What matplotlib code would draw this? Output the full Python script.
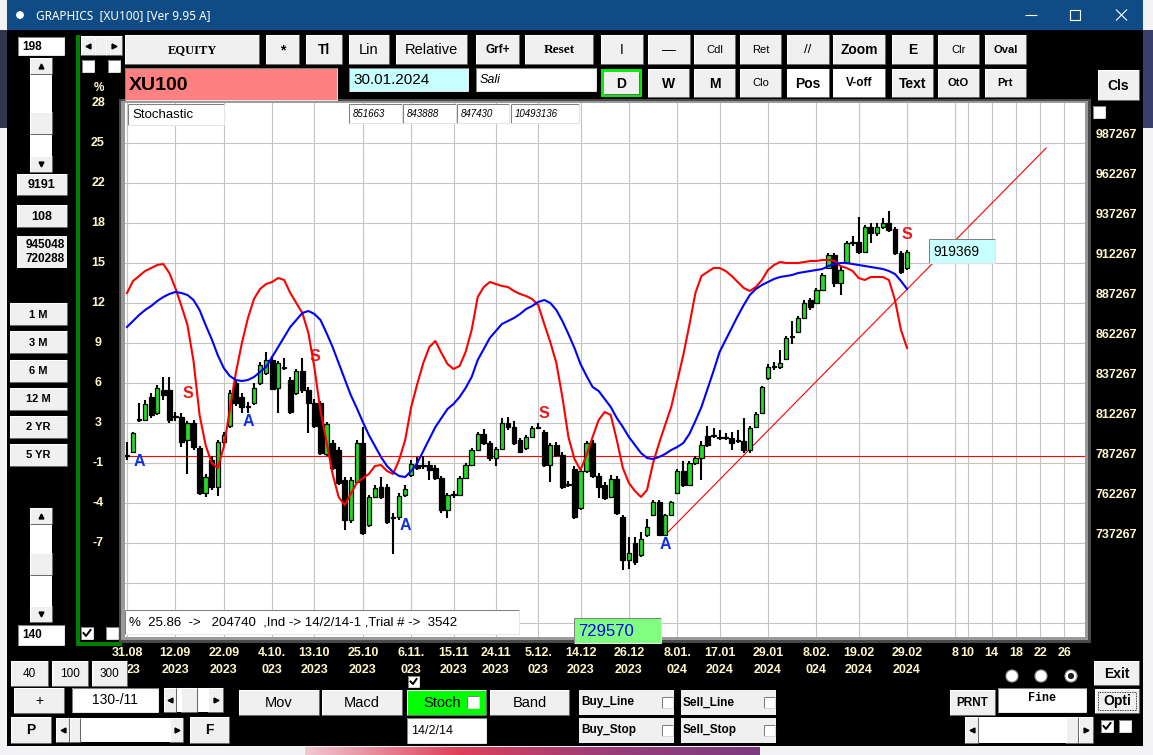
import matplotlib
matplotlib.use("Agg")
import matplotlib.pyplot as plt
import matplotlib.transforms as mtransforms
from matplotlib.colors import LinearSegmentedColormap
from matplotlib.patches import Circle, Rectangle
from matplotlib import font_manager
import numpy as np

# daily XU100 candles, prices in thousands
opens = [792.3, 794.1, 814.1, 814.1, 828.5, 818.5, 832.9, 832.9, 816.0, 816.0,
         801.6, 812.3, 796.6, 768.5, 789.1, 772.2, 800.4, 810.4, 837.3, 828.5,
         822.2, 824.7, 837.3, 843.5, 851.6, 834.1, 846.6, 839.1, 831.0, 844.7,
         832.9, 824.7, 824.7, 792.9, 799.8, 795.4, 776.6, 751.6, 775.4, 799.8,
         748.5, 766.0, 772.2, 772.2, 752.9, 753.5, 767.3, 779.8, 786.0, 786.0,
         786.0, 784.1, 777.9, 757.9, 767.3, 767.3, 777.9, 786.0, 795.4, 805.4,
         799.8, 790.4, 796.0, 812.3, 809.8, 801.6, 796.6, 803.5, 809.1, 806.6,
         786.0, 798.5, 792.3, 774.1, 783.5, 759.1, 782.2, 799.8, 779.1, 773.5,
         766.0, 777.3, 753.5, 726.6, 737.3, 729.7, 742.3, 754.7, 762.9, 742.3,
         754.7, 768.5, 782.2, 773.5, 787.3, 790.4, 804.1, 804.1, 802.9, 803.5,
         802.9, 801.0, 801.0, 795.4, 809.8, 818.5, 840.4, 847.3, 847.3, 852.3,
         866.0, 869.1, 877.9, 889.1, 887.3, 895.4, 909.1, 917.3, 899.8, 912.3,
         924.8, 925.4, 919.1, 934.8, 931.0, 934.8, 937.3, 933.5, 918.5, 909.1]
highs = [800.4, 806.6, 824.7, 826.6, 831.0, 836.0, 841.0, 841.0, 819.1, 818.5,
         813.5, 814.1, 797.9, 780.4, 791.6, 801.6, 806.6, 832.9, 839.1, 831.0,
         825.4, 837.3, 850.4, 856.6, 854.1, 851.0, 852.9, 841.0, 846.0, 852.9,
         834.7, 827.3, 826.0, 812.9, 801.6, 797.3, 778.5, 778.5, 801.6, 809.8,
         767.3, 773.5, 778.5, 774.1, 756.0, 768.5, 773.5, 789.1, 791.0, 791.6,
         788.5, 786.0, 779.1, 768.5, 769.8, 779.1, 787.3, 796.6, 806.6, 808.5,
         801.0, 797.3, 815.4, 816.0, 813.5, 802.9, 804.7, 810.4, 812.3, 807.9,
         799.8, 800.4, 794.1, 776.0, 785.4, 783.5, 801.0, 801.6, 781.0, 775.4,
         779.8, 779.1, 754.7, 741.0, 741.0, 744.1, 752.2, 764.1, 764.1, 755.4,
         763.5, 783.5, 788.5, 788.5, 791.6, 801.0, 810.4, 809.1, 807.9, 806.0,
         806.6, 807.9, 815.4, 810.4, 819.1, 835.4, 849.1, 850.4, 857.9, 866.6,
         876.0, 879.1, 889.1, 890.4, 896.6, 906.0, 918.5, 918.5, 910.4, 926.0,
         929.1, 941.0, 936.0, 937.3, 937.3, 940.4, 945.0, 934.8, 919.8, 920.4]
lows = [789.1, 793.5, 812.9, 813.5, 815.4, 817.3, 826.6, 812.3, 813.5, 797.3,
        780.4, 795.4, 767.3, 766.0, 770.4, 766.6, 798.5, 809.1, 822.9, 818.5,
        818.5, 823.5, 836.0, 842.3, 832.9, 818.5, 845.4, 817.9, 829.8, 831.0,
        806.0, 809.1, 792.3, 791.6, 782.9, 773.5, 745.4, 749.8, 774.7, 742.3,
        747.3, 765.4, 764.7, 749.1, 730.4, 751.6, 766.0, 778.5, 782.9, 783.5,
        776.6, 776.6, 755.8, 752.9, 765.4, 766.6, 777.3, 785.4, 794.7, 798.5,
        788.5, 785.4, 795.4, 807.9, 798.5, 793.5, 795.4, 802.9, 808.5, 784.7,
        775.4, 791.0, 771.0, 772.2, 752.2, 757.9, 781.0, 777.9, 765.4, 764.1,
        765.4, 754.7, 720.3, 721.0, 723.5, 728.5, 741.0, 754.1, 741.6, 741.6,
        754.1, 767.9, 772.2, 772.9, 786.0, 776.6, 797.3, 802.9, 801.6, 801.6,
        795.4, 799.8, 793.5, 793.5, 809.1, 817.9, 839.1, 845.4, 846.0, 851.6,
        861.6, 868.5, 877.3, 882.9, 886.6, 894.7, 908.5, 897.3, 892.3, 911.6,
        922.9, 917.9, 918.5, 924.8, 929.1, 933.5, 931.6, 917.3, 905.4, 907.9]
closes = [791.8, 806.0, 814.7, 824.1, 817.3, 834.1, 829.8, 814.1, 816.6, 800.4,
          812.3, 797.3, 768.5, 778.5, 772.2, 800.4, 804.7, 831.0, 824.7, 822.2,
          822.9, 834.1, 848.5, 851.6, 833.5, 849.8, 847.3, 819.1, 844.7, 832.9,
          824.7, 810.4, 793.5, 811.6, 784.1, 774.7, 751.6, 776.6, 799.8, 743.5,
          766.0, 771.6, 766.0, 750.4, 753.5, 766.6, 771.0, 786.6, 784.1, 785.4,
          782.9, 777.9, 757.9, 767.3, 767.9, 777.9, 786.0, 795.4, 805.4, 799.8,
          790.4, 796.0, 812.3, 809.8, 799.8, 794.1, 803.5, 809.1, 809.8, 786.0,
          798.5, 792.3, 772.2, 773.5, 753.5, 782.2, 799.8, 779.1, 772.2, 765.4,
          777.3, 755.8, 726.6, 731.0, 725.4, 739.7, 747.3, 762.9, 742.3, 754.7,
          762.9, 782.2, 773.5, 787.3, 790.4, 798.5, 798.5, 804.7, 803.5, 802.9,
          799.8, 801.6, 795.4, 809.1, 817.9, 834.7, 847.3, 847.9, 849.8, 865.4,
          866.6, 877.9, 887.3, 884.8, 895.4, 904.8, 917.3, 899.8, 907.9, 924.8,
          925.4, 919.1, 934.8, 931.0, 934.8, 937.3, 932.9, 918.5, 906.6, 919.4]

# stochastic %K (red) and %D (blue)
stoch_k = [86.8, 91.6, 93.6, 95.6, 96.8, 98.0, 98.4, 94.8, 88.8, 81.6,
           74.0, 59.6, 38.0, 26.0, 18.8, 16.8, 25.2, 40.0, 54.8, 66.8,
           76.8, 84.4, 88.4, 90.4, 91.2, 92.8, 92.0, 86.8, 82.8, 78.8,
           70.8, 56.8, 39.6, 27.2, 14.4, 5.2, 2.0, 6.4, 10.8, 12.8,
           14.4, 17.6, 18.0, 15.6, 14.4, 20.0, 28.0, 41.2, 50.4, 58.8,
           65.2, 67.6, 62.8, 58.4, 56.4, 57.6, 63.2, 72.0, 85.2, 89.2,
           91.2, 90.4, 89.6, 89.2, 87.6, 86.4, 85.6, 84.4, 82.0, 74.4,
           67.2, 58.8, 45.2, 29.2, 20.4, 16.0, 22.0, 29.2, 36.0, 39.2,
           38.0, 28.0, 16.8, 10.8, 7.6, 5.2, 8.0, 18.8, 26.8, 34.0,
           41.2, 51.6, 62.0, 74.0, 86.8, 93.6, 95.2, 96.8, 96.8, 95.6,
           93.6, 91.2, 88.8, 87.6, 89.2, 92.0, 96.0, 98.0, 99.2, 98.8,
           98.8, 98.8, 99.2, 99.6, 99.6, 100.0, 100.0, 99.6, 97.6, 96.8,
           95.6, 92.8, 92.0, 93.2, 93.2, 93.2, 92.0, 84.0, 72.0, 64.8]
stoch_d = [73.2, 75.6, 78.0, 80.0, 81.6, 83.6, 85.2, 86.4, 87.2, 86.8,
           86.0, 84.0, 80.0, 74.0, 68.4, 62.0, 56.8, 53.6, 52.0, 51.6,
           52.0, 53.2, 55.2, 57.2, 61.2, 65.2, 69.2, 73.2, 76.0, 78.8,
           79.6, 78.4, 76.0, 70.8, 65.2, 58.8, 52.4, 46.0, 40.8, 35.2,
           30.0, 25.6, 21.2, 17.6, 15.2, 13.6, 13.2, 15.6, 18.8, 23.6,
           28.4, 33.2, 36.8, 40.4, 42.4, 45.2, 48.8, 53.2, 60.0, 64.4,
           68.8, 71.6, 74.4, 75.6, 76.8, 78.4, 80.4, 81.6, 83.2, 84.0,
           82.8, 80.0, 75.6, 70.4, 64.8, 58.4, 53.6, 49.2, 47.6, 44.4,
           41.2, 36.8, 33.2, 29.2, 26.0, 22.8, 20.8, 20.4, 21.2, 22.4,
           24.0, 25.2, 26.8, 30.4, 35.6, 41.2, 48.4, 55.6, 63.2, 68.0,
           72.8, 77.6, 82.0, 86.0, 88.4, 90.0, 91.2, 92.4, 93.2, 93.6,
           94.0, 94.8, 95.2, 95.6, 96.0, 96.4, 97.6, 98.4, 98.8, 98.8,
           98.4, 98.0, 97.6, 97.2, 96.8, 96.4, 95.6, 94.4, 91.6, 88.4]

date_bars = [0, 8, 16, 24, 31, 39, 47, 54, 61, 68, 75, 83, 91, 98, 106, 114, 121, 129]
date_top = ["31.08", "12.09", "22.09", "4.10.", "13.10", "25.10", "6.11.", "15.11", "24.11",
            "5.12.", "14.12", "26.12", "8.01.", "17.01", "29.01", "8.02.", "19.02", "29.02"]
# first one is half hidden under the "300" button in the app
date_bottom = ["23", "2023", "2023", "023", "2023", "2023", "023", "2023", "2023",
               "023", "2023", "2023", "024", "2024", "2024", "024", "2024", "2024"]
future_days = [8, 10, 14, 18, 22, 26]

price_ticks = [987.267, 962.267, 937.267, 912.267, 887.267, 862.267,
               837.267, 812.267, 787.267, 762.267, 737.267]
extra_grid = [712.267, 687.267]
top_price = 1012.267

signal_bars = [2, 10, 20, 31, 46, 69, 89, 129]
signal_prices = [788.5, 830.4, 812.9, 854.1, 747.9, 817.9, 736.6, 929.8]
signal_kinds = ["A", "S", "A", "S", "A", "S", "A", "S"]

trend_bars = [89, 152]
trend_prices = [742.3, 984.1]

W, H = 1153, 755
names = {f.name for f in font_manager.fontManager.ttflist}
SANS = "Liberation Sans" if "Liberation Sans" in names else "DejaVu Sans"
SERIF = "Liberation Serif" if "Liberation Serif" in names else "DejaVu Serif"
MONO = "Liberation Mono" if "Liberation Mono" in names else "DejaVu Sans Mono"
NARROW = "Liberation Sans Narrow" if "Liberation Sans Narrow" in names else SANS
AXFS = 10.5 if NARROW != SANS else 9
YEL = "#FFF8C8"
GREEN = "#22DD22"


def box(a, x0, y0, x1, y1, face, z=2, edge=None, lw=0):
    a.add_patch(Rectangle((x0, y0), x1 - x0, y1 - y0, facecolor=face,
                          edgecolor=edge or face, lw=lw, zorder=z))


def seg(a, xs, ys, color, z, lw=0.75):
    a.plot(xs, ys, color=color, lw=lw, zorder=z, solid_capstyle="butt")


def bevel(a, x0, y0, x1, y1, light, dark, z):
    seg(a, [x0, x1], [y0, y0], light, z)
    seg(a, [x0, x0], [y0, y1], light, z)
    seg(a, [x0, x1], [y1, y1], dark, z)
    seg(a, [x1, x1], [y0, y1], dark, z)


def button(a, x0, y0, x1, y1, label="", size=9, weight="bold", family=None,
           face="#F0F0F0", z=3, tx=None):
    box(a, x0, y0, x1, y1, face, z=z)
    bevel(a, x0, y0, x1, y1, "white", "#696969", z + 0.1)
    if label:
        a.text((x0 + x1) / 2 if tx is None else tx, (y0 + y1) / 2 + 0.5, label,
               ha="center", va="center", fontsize=size, fontweight=weight,
               family=family or SANS, color="black", zorder=z + 0.2)


def field(a, x0, y0, x1, y1, label="", face="white", size=9, weight="normal",
          family=None, color="black", ha="left", style="normal", z=3):
    box(a, x0, y0, x1, y1, face, z=z)
    bevel(a, x0, y0, x1, y1, "#808080", "#E4E4E4", z + 0.1)
    if label:
        tx = x0 + 4 if ha == "left" else ((x0 + x1) / 2 if ha == "center" else x1 - 3)
        a.text(tx, (y0 + y1) / 2 + 0.5, label, ha=ha, va="center", fontsize=size,
               fontweight=weight, family=family or SANS, color=color,
               style=style, zorder=z + 0.2)


def checkbox(a, x, y, s=12, checked=False, z=3):
    box(a, x, y, x + s, y + s, "white", z=z)
    bevel(a, x, y, x + s, y + s, "#808080", "#D8D8D8", z + 0.1)
    if checked:
        a.plot([x + 2.5, x + 5, x + s - 2.5], [y + s / 2, y + s - 3, y + 3],
               color="black", lw=1.4, zorder=z + 0.2)


def arrow(a, x0, y0, x1, y1, marker, z=3):
    button(a, x0, y0, x1, y1, z=z)
    a.plot([(x0 + x1) / 2], [(y0 + y1) / 2], marker=marker, color="black",
           ms=3.5, zorder=z + 0.3)


fig = plt.figure(figsize=(W / 100, H / 100), dpi=100)
fig.patch.set_facecolor("#F3F3F6")

bg = fig.add_axes([0, 0, 1, 1], zorder=0)
bg.axis("off")

ax = fig.add_axes([125 / W, 1 - 637 / H, 960 / W, 534 / H], zorder=1)
ax.set_facecolor("white")
for s in ax.spines.values():
    s.set_visible(False)
ax.set_xticks([])
ax.set_yticks([])
ax.set_xlim(-0.33, 158.43)
ax.set_ylim(678.517, top_price)

ax2 = ax.twinx()
ax2.set_zorder(1.5)
ax2.set_ylim(-50.8, 162.8)
ax2.axis("off")

ov = fig.add_axes([0, 0, 1, 1], zorder=3)
ov.axis("off")

# ---- desktop and window ----
box(bg, 0, 30, 7, 128, "#34344F", z=0.1)
box(bg, 1143, 30, W, 128, "#3B3F6B", z=0.1)
grad = LinearSegmentedColormap.from_list("desk", ["#F0C8D0", "#E0405A", "#9A3C78", "#7A3C80"])
bg.imshow(np.linspace(0, 1, 200)[None, :], extent=(305, 760, 755, 747), cmap=grad,
          aspect="auto", zorder=0.2)
box(bg, 7, 0, 1143, 746, "black", z=0.5)
box(bg, 7, 0, 1143, 30, "#0F4B85", z=0.6)
bg.add_patch(Circle((20, 15), 3.2, color="white", zorder=0.7))
bg.text(36, 15.5, "GRAPHICS  [XU100] [Ver 9.95 A]", color="white", fontsize=8.5,
        family="Noto Sans", va="center", zorder=0.7)
seg(bg, [1025, 1037], [15, 15], "white", 0.7, lw=0.8)
bg.add_patch(Rectangle((1070, 10), 10, 10, fill=False, edgecolor="white", lw=0.8, zorder=0.7))
seg(bg, [1116, 1127], [9.5, 20.5], "white", 0.7, lw=0.8)
seg(bg, [1116, 1127], [20.5, 9.5], "white", 0.7, lw=0.8)

# ---- chart frame shadow ----
box(bg, 119, 99, 1091, 643, "#4A4A4A", z=1)
box(bg, 121, 101, 1088, 640, "#9A9A9A", z=1.1)

# ---- top toolbar ----
field(bg, 18, 37, 64, 55, "198", size=8.5, weight="bold")
arrow(bg, 81, 36, 95, 55, "<")
button(bg, 95, 36, 106, 55)
arrow(bg, 106, 36, 122, 55, ">")
checkbox(bg, 82, 60)
checkbox(bg, 108, 60)

row1 = [(125, 259, "EQUITY", 9, "bold", SERIF), (266, 299, "*", 10, "bold", SANS),
        (306, 342, "Tl", 10, "bold", SANS), (349, 389, "Lin", 10.5, "normal", SANS),
        (396, 467, "Relative", 10.5, "normal", SANS), (476, 519, "Grf+", 8.5, "bold", SANS),
        (525, 593, "Reset", 9.5, "bold", SERIF), (601, 643, "I", 10, "normal", SANS),
        (648, 690, "\u2014", 10, "normal", SANS), (694, 735, "Cdl", 8, "normal", SANS),
        (740, 781, "Ret", 8, "normal", SANS), (787, 829, "//", 9.5, "normal", SANS),
        (833, 885, "Zoom", 10, "bold", SANS), (892, 933, "E", 10, "bold", SANS),
        (938, 979, "Clr", 8, "normal", SANS), (985, 1026, "Oval", 8, "bold", SANS)]
for x0, x1, lab, fs, wt, fam in row1:
    button(bg, x0, 35, x1, 64, lab, size=fs, weight=wt, family=fam)

box(bg, 125, 68, 337, 100, "#FF8080", z=3)
bevel(bg, 125, 68, 337, 100, "#808080", "#E4E4E4", 3.1)
bg.text(129, 85, "XU100", fontsize=14, fontweight="bold", family=SANS, va="center", zorder=3.2)
field(bg, 349, 68, 468, 91, "30.01.2024", face="#C8FFFF", size=11)
field(bg, 476, 68, 596, 91, "Sali", size=9, style="italic")
box(bg, 601, 69, 642, 97, "#00EE00", z=3)
button(bg, 604, 72, 639, 94, "D", size=10, z=3.3)
row2 = [(648, 689, "W", 10, "bold", "#F0F0F0"), (694, 735, "M", 10, "bold", "#F0F0F0"),
        (740, 781, "Clo", 8, "normal", "#F0F0F0"), (787, 829, "Pos", 10, "bold", "white"),
        (833, 885, "V-off", 8.5, "bold", "white"), (892, 933, "Text", 10, "bold", "#F0F0F0"),
        (938, 979, "OtO", 8, "bold", "#F0F0F0"), (985, 1026, "Prt", 8, "bold", "#F0F0F0")]
for x0, x1, lab, fs, wt, face in row2:
    button(bg, x0, 69, x1, 97, lab, size=fs, weight=wt, face=face)
button(bg, 1098, 70, 1139, 100, "Cls", size=10)
checkbox(bg, 1093, 106)

# ---- left panel ----
box(bg, 30, 58, 52, 172, "white", z=2.5)
arrow(bg, 30, 58, 52, 74, "^")
button(bg, 30, 112, 52, 134)
arrow(bg, 30, 156, 52, 172, "v")
button(bg, 17, 174, 67, 195, "9191", size=9)
button(bg, 17, 205, 67, 227, "108", size=9)
box(bg, 17, 236, 67, 268, "#F0F0F0", z=3)
bg.text(65, 244.5, "945048", ha="right", va="center", fontsize=8.5, fontweight="bold",
        family=SANS, zorder=3.2)
bg.text(65, 259.5, "720288", ha="right", va="center", fontsize=8.5, fontweight="bold",
        family=SANS, zorder=3.2)
for y0, lab in zip([303, 331, 360, 388, 416, 444], ["1 M", "3 M", "6 M", "12 M", "2 YR", "5 YR"]):
    button(bg, 10, y0, 67, y0 + 22, lab, size=8)
box(bg, 30, 508, 52, 622, "white", z=2.5)
arrow(bg, 30, 508, 52, 524, "^")
button(bg, 30, 553, 52, 575)
arrow(bg, 30, 606, 52, 622, "v")
field(bg, 18, 625, 64, 645, "140", size=8.5, weight="bold")
box(bg, 76, 35, 80, 646, "#008000", z=2)
box(bg, 76, 642, 122, 646, "#008000", z=2)
checkbox(bg, 81, 627, checked=True)
checkbox(bg, 106, 627)

# ---- candles ----
xs = np.arange(len(closes))
o = np.array(opens)
h = np.array(highs)
lo = np.array(lows)
c = np.array(closes)
up = c >= o

for p in price_ticks + extra_grid:
    ax.axhline(p, color="#C4C4C4", lw=0.8, zorder=0.5)
for b in date_bars:
    ax.axvline(b, color="#C4C4C4", lw=0.8, zorder=0.5)
for d in future_days:
    ax.axvline(xs[-1] + d, color="#C4C4C4", lw=0.8, zorder=0.5)

ax.axhline(closes[0], color="red", lw=0.8, zorder=1.5)
ax.plot(trend_bars, trend_prices, color="red", lw=0.8, zorder=1.5)

ax.vlines(xs, lo, h, color="black", lw=1.5, zorder=2)
ax.bar(xs[up], (c - o)[up], bottom=o[up], width=0.72, color=GREEN,
       edgecolor="black", lw=0.9, zorder=3)
ax.bar(xs[~up], (o - c)[~up], bottom=c[~up], width=0.8, color="black",
       edgecolor="black", lw=0.9, zorder=3)

ax2.plot(xs, stoch_k, color="red", lw=1.5, zorder=4)
ax2.plot(xs, stoch_d, color="blue", lw=1.5, zorder=4)

for b, p, k in zip(signal_bars, signal_prices, signal_kinds):
    ax.text(b, p, k, color="#1030E0" if k == "A" else "#E81818", ha="center", va="center",
            fontsize=11.5, fontweight="bold", family=SANS, zorder=5)

# ---- axis labels ----
ty = mtransforms.blended_transform_factory(bg.transData, ax.transData)
ty_up = mtransforms.offset_copy(ty, fig=fig, x=0, y=8, units="dots")
for p in price_ticks:
    bg.text(1116, p, f"{round(p * 1000)}", transform=ty_up, ha="center", va="center",
            color=YEL, fontsize=AXFS, fontweight="bold", family=NARROW, zorder=2)
for p in [top_price] + price_ticks:
    pct = round((p / closes[0] - 1) * 100)
    bg.text(98, p, f"{pct}", transform=ty, ha="center", va="center",
            color=YEL, fontsize=AXFS, fontweight="bold", family=NARROW, zorder=2)
bg.text(99, 88, "%", ha="center", va="center", color=YEL, fontsize=8.5,
        fontweight="bold", family=NARROW, zorder=2)

tx = mtransforms.blended_transform_factory(ax.transData, bg.transData)
tx_right = mtransforms.offset_copy(tx, fig=fig, x=7, y=0, units="dots")
for i, (b, t1, t2) in enumerate(zip(date_bars, date_top, date_bottom)):
    bg.text(b, 653, t1, transform=tx, ha="center", va="center", color=YEL,
            fontsize=AXFS, fontweight="bold", family=NARROW, zorder=2)
    bg.text(b, 670, t2, transform=tx_right if i == 0 else tx, ha="center", va="center",
            color=YEL, fontsize=AXFS, fontweight="bold", family=NARROW, zorder=2)
for d in future_days:
    bg.text(xs[-1] + d, 653, f"{d}", transform=tx, ha="center", va="center", color=YEL,
            fontsize=AXFS, fontweight="bold", family=NARROW, zorder=2)

# ---- boxes over chart ----
field(ov, 128, 104, 224, 125, "Stochastic", size=9.5)
for x0, x1, lab in [(349, 402, "851663"), (403, 456, "843888"),
                    (457, 509, "847430"), (511, 579, "10493136")]:
    field(ov, x0, 104, x1, 123, lab, size=7, style="italic")
field(ov, 125, 610, 519, 634,
      "%  25.86  ->   204740  ,Ind -> 14/2/14-1 ,Trial # ->  3542", size=9.5)
field(ov, 574, 618, 661, 643, "729570", face="#80FF80", color="#0000FF", size=12)
field(ov, 929, 239, 995, 263, "919369", face="#C8FFFF", size=10)

# ---- bottom controls ----
button(bg, 11, 661, 48, 686, "40", size=8.5, weight="normal")
button(bg, 52, 661, 88, 686, "100", size=8.5, weight="normal")
button(bg, 92, 661, 127, 686, "300", size=8.5, weight="normal")
button(bg, 14, 688, 64, 713, "+", size=10, weight="normal")
field(bg, 72, 688, 158, 712, "130-/11", size=10, ha="center")
box(bg, 164, 688, 223, 712, "white", z=2.5)
arrow(bg, 164, 688, 176, 712, "<")
button(bg, 181, 688, 197, 712)
arrow(bg, 208, 688, 223, 712, ">")
button(bg, 11, 717, 51, 743, "P", size=10)
box(bg, 56, 718, 183, 742, "white", z=2.5)
arrow(bg, 56, 718, 69, 742, "<")
button(bg, 70, 718, 80, 742)
arrow(bg, 170, 718, 183, 742, ">")
button(bg, 190, 717, 229, 743, "F", size=10)

button(bg, 239, 690, 319, 715, "Mov", size=10.5, weight="normal")
button(bg, 322, 690, 402, 715, "Macd", size=10.5, weight="normal")
button(bg, 407, 690, 486, 715, "Stoch", size=10.5, weight="normal", face="#00FF00", tx=442)
checkbox(bg, 467, 696, s=12)
button(bg, 490, 690, 569, 715, "Band", size=10.5, weight="normal")
checkbox(bg, 408, 676, s=11, checked=True)
field(bg, 407, 718, 486, 743, "14/2/14", size=9)

for x0, y0, lab in [(579, 690, "Buy_Line"), (681, 690, "Sell_Line"),
                    (579, 718, "Buy_Stop"), (681, 718, "Sell_Stop")]:
    box(bg, x0, y0, x0 + 95, y0 + 25, "#F0F0F0", z=3)
    bg.text(x0 + 2, y0 + 12.5, lab, va="center", fontsize=8.5, fontweight="bold",
            family=SANS, zorder=3.2)
    checkbox(bg, x0 + 83, y0 + 7, s=11)

for xc, sel in [(1012, False), (1041, False), (1071, True)]:
    bg.add_patch(Circle((xc, 676), 6, facecolor="white", edgecolor="#A0A0A0", lw=0.8, zorder=3))
    if sel:
        bg.add_patch(Circle((xc, 676), 2.4, color="#202020", zorder=3.2))
button(bg, 1094, 661, 1139, 685, "Exit", size=10)
button(bg, 950, 690, 995, 715, "PRNT", size=8.5)
box(bg, 998, 688, 1086, 712, "white", z=3)
bevel(bg, 998, 688, 1086, 712, "#808080", "#E4E4E4", 3.1)
bg.text(1042, 698, "Fine", ha="center", va="center", fontsize=8.5, fontweight="bold",
        family=MONO, zorder=3.2)
button(bg, 1095, 689, 1139, 713, "Opti", size=10)
bg.add_patch(Rectangle((1098, 692), 38, 18, fill=False, edgecolor="black", lw=0.6,
                       ls=(0, (1, 1)), zorder=3.3))
box(bg, 965, 717, 1093, 743, "white", z=2.5)
arrow(bg, 965, 717, 978, 743, "<")
button(bg, 1066, 717, 1078, 743)
arrow(bg, 1079, 717, 1093, 743, ">")
checkbox(bg, 1101, 720, checked=True)
checkbox(bg, 1119, 720)

for a in (bg, ov):
    a.set_xlim(0, W)
    a.set_ylim(H, 0)

fig.savefig("out.png", dpi=100)
